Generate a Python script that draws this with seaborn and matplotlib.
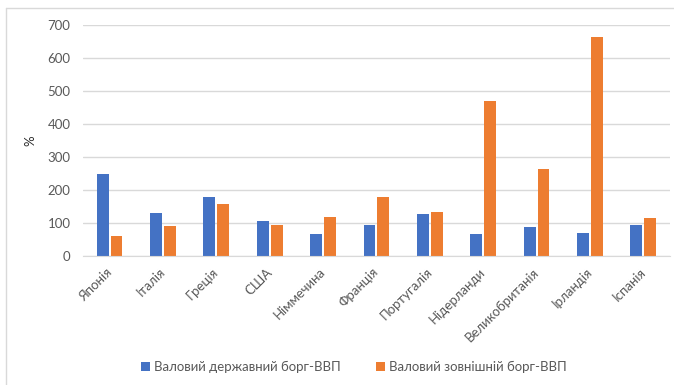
import matplotlib
matplotlib.use("Agg")
import matplotlib.pyplot as plt
import matplotlib.transforms as mtransforms
import pandas as pd
import seaborn as sns
from matplotlib.lines import Line2D

sns.set_style("white")
plt.rcParams["font.family"] = ["Lato", "DejaVu Sans"]

countries = ["Японія", "Італія", "Греція", "США", "Німмечина", "Франція",
             "Португалія", "Нідерланди", "Великобританія", "Ірландія", "Іспанія"]
public_debt = [248, 129, 178, 105, 66, 93, 126, 66, 88, 71, 95]
external_debt = [61, 91, 157, 93, 119, 178, 132, 470, 263, 665, 114]
series_names = ["Валовий державний борг-ВВП", "Валовий зовнішній борг-ВВП"]
colors = ["#4472C4", "#ED7D31"]

df = pd.DataFrame({
    "country": countries * 2,
    "value": public_debt + external_debt,
    "series": [series_names[0]] * len(countries) + [series_names[1]] * len(countries),
})

fig = plt.figure(figsize=(6.74, 3.85), dpi=100)
ax = fig.add_axes([0.123, 0.335, 0.871, 0.60])

sns.barplot(data=df, x="country", y="value", hue="series", palette=colors,
            width=0.52, gap=0.14, ax=ax, edgecolor="none", saturation=1)

ax.set_ylim(0, 700)
ax.set_yticks(range(0, 701, 100))
ax.set_xlim(-0.5, len(countries) - 0.5)
ax.yaxis.grid(True, color="#D9D9D9", linewidth=1)
ax.set_axisbelow(True)
for s in ["top", "right", "left"]:
    ax.spines[s].set_visible(False)
ax.spines["bottom"].set_color("#D9D9D9")

ax.set_xlabel("")
ax.set_ylabel("%", fontsize=9.5, color="#262626", labelpad=8)
ax.tick_params(axis="y", length=0, labelsize=9.5, labelcolor="#595959", pad=9)
ax.tick_params(axis="x", length=0, labelsize=9.5, labelcolor="#595959", pad=7)
shift = mtransforms.ScaledTranslation(-4 / 100, 0, fig.dpi_scale_trans)
for lbl in ax.get_xticklabels():
    lbl.set_rotation(45)
    lbl.set_ha("right")
    lbl.set_rotation_mode("anchor")
    lbl.set_transform(lbl.get_transform() + shift)

handles, labels = ax.get_legend_handles_labels()
ax.legend(handles, labels, loc="center", bbox_to_anchor=(0.525, 0.047),
          bbox_transform=fig.transFigure, ncol=2, frameon=False, fontsize=9.5,
          handlelength=0.7, handleheight=0.7, columnspacing=2.6, handletextpad=0.3,
          labelcolor="#595959")

# chart area border (top and left edges visible in the source image)
fig.lines.append(Line2D([0.009, 1.0], [0.979, 0.979], transform=fig.transFigure,
                        color="#D9D9D9", linewidth=1))
fig.lines.append(Line2D([0.009, 0.009], [0.0, 0.979], transform=fig.transFigure,
                        color="#D9D9D9", linewidth=1))

fig.savefig("out.png", dpi=100)
